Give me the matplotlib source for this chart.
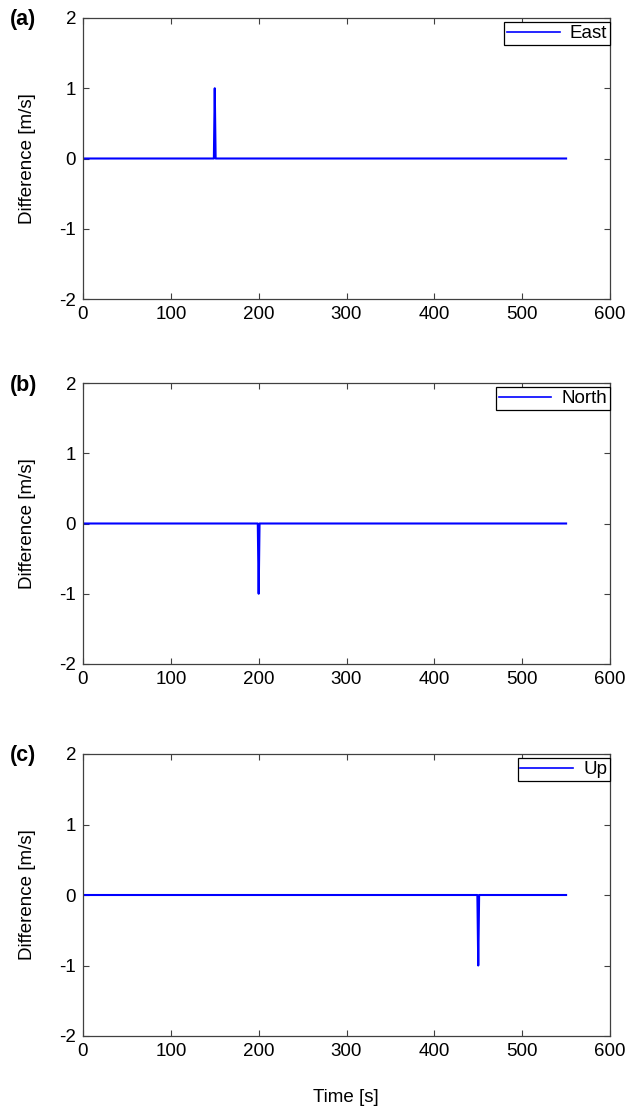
import matplotlib
matplotlib.use("Agg")
import matplotlib.pyplot as plt

plt.rcParams["font.family"] = ["Liberation Sans", "DejaVu Sans"]
plt.rcParams["axes.unicode_minus"] = False

# time / difference breakpoints
time_east = [0, 149, 150, 151, 550]
diff_east = [0, 0, 1, 0, 0]
time_north = [0, 199, 200, 201, 550]
diff_north = [0, 0, -1, 0, 0]
time_up = [0, 449, 450, 451, 550]
diff_up = [0, 0, -1, 0, 0]

series = [
    ("(a)", "East", time_east, diff_east),
    ("(b)", "North", time_north, diff_north),
    ("(c)", "Up", time_up, diff_up),
]
xticks = [0, 100, 200, 300, 400, 500, 600]
yticks = [-2, -1, 0, 1, 2]

W, H = 628, 1117
fig = plt.figure(figsize=(W / 100, H / 100), dpi=100)

# axes boxes in pixels: (left, top, right, bottom)
boxes = [(83, 18, 610, 299), (83, 383, 610, 664), (83, 754, 610, 1036)]

for (tag, name, t, d), (l, tp, r, b) in zip(series, boxes):
    ax = fig.add_axes([l / W, 1 - b / H, (r - l) / W, (b - tp) / H])
    ax.plot(t, d, color="#0000ff", lw=1.5, label=name)
    ax.set_xlim(0, 600)
    ax.set_ylim(-2, 2)
    ax.set_xticks(xticks)
    ax.set_yticks(yticks)
    ax.tick_params(direction="in", top=True, right=True, length=4,
                   labelsize=13.5, color="#404040", pad=5)
    for s in ax.spines.values():
        s.set_color("#404040")
        s.set_linewidth(0.9)
    ax.set_ylabel("Difference [m/s]", fontsize=13.5, labelpad=17)
    leg = ax.legend(loc="upper right", bbox_to_anchor=(1.0, 0.985),
                    fontsize=13.5, handlelength=2.8, handletextpad=0.55,
                    borderpad=0.15, borderaxespad=0, fancybox=False,
                    framealpha=1)
    leg.get_frame().set_edgecolor("black")
    leg.get_frame().set_linewidth(0.9)
    for h in leg.get_lines():
        h.set_linewidth(1.2)
    fig.text(10 / W, 1 - (tp + 2) / H, tag, fontsize=15.5, fontweight="bold",
             va="center", ha="left")

fig.text(346 / W, 1 - 1097 / H, "Time [s]", fontsize=13.5, ha="center",
         va="center")

fig.savefig("out.png", dpi=100)
